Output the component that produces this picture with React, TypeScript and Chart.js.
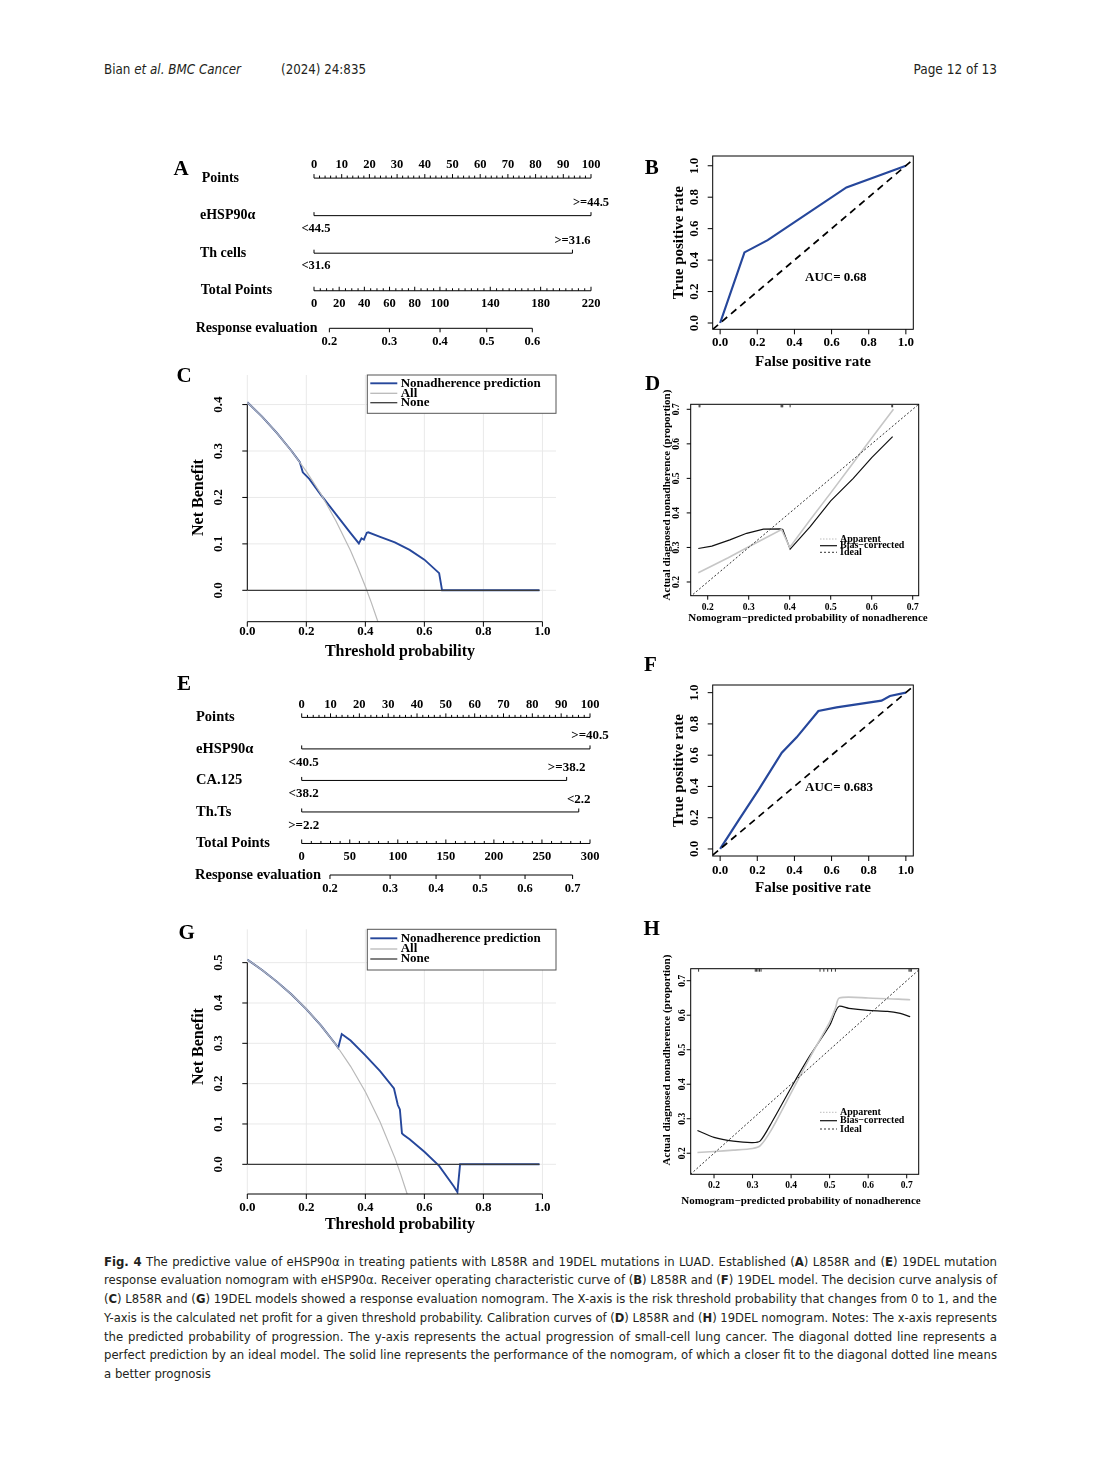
import React, { useEffect, useLayoutEffect, useRef } from "react";
import { Chart, registerables } from "chart.js";

Chart.register(...registerables);

const SERIF = '"Liberation Serif", "Times New Roman", Times, serif';
const SANS = '"Liberation Sans Narrow", "DejaVu Sans Condensed", "Roboto Condensed", Roboto, "Liberation Sans", sans-serif';
const B = (s: number) => `bold ${s}px ${SERIF}`;
const BLUE = "#26479b";
const INK = "#231f20";

// ================= DATA =================
// --- A: L858R nomogram
const nomoAPointTicks = [0, 10, 20, 30, 40, 50, 60, 70, 80, 90, 100];
const nomoARowLabels = ["Points", "eHSP90α", "Th cells", "Total Points", "Response evaluation"];
const nomoAVarMaxPoints = [100, 93.3];
const nomoAVarLowLabels = ["<44.5", "<31.6"];
const nomoAVarHighLabels = [">=44.5", ">=31.6"];
const nomoATotalTicks = [0, 20, 40, 60, 80, 100, 140, 180, 220];
const nomoATotalMax = 220;
const nomoARespProb = [0.2, 0.3, 0.4, 0.5, 0.6];
const nomoARespTotal = [12.2, 59.9, 100.1, 137.2, 173.4];

// --- E: 19DEL nomogram
const nomoEPointTicks = [0, 10, 20, 30, 40, 50, 60, 70, 80, 90, 100];
const nomoERowLabels = ["Points", "eHSP90α", "CA.125", "Th.Ts", "Total Points", "Response evaluation"];
const nomoEVarMaxPoints = [100, 91.9, 96.1];
const nomoEVarLowLabels = ["<40.5", "<38.2", ">=2.2"];
const nomoEVarHighLabels = [">=40.5", ">=38.2", "<2.2"];
const nomoETotalTicks = [0, 50, 100, 150, 200, 250, 300];
const nomoETotalMax = 300;
const nomoERespProb = [0.2, 0.3, 0.4, 0.5, 0.6, 0.7];
const nomoERespTotal = [29.4, 92, 139.8, 185.6, 232.4, 281.9];

// --- B / F: ROC curves
const rocTicks = [0, 0.2, 0.4, 0.6, 0.8, 1.0];
const rocBFpr = [0, 0.131, 0.256, 0.68, 1];
const rocBTpr = [0, 0.449, 0.527, 0.862, 1];
const rocBAuc = "AUC= 0.68";
const rocFFpr = [0, 0.1, 0.206, 0.332, 0.412, 0.529, 0.627, 0.869, 0.914, 1];
const rocFTpr = [0, 0.185, 0.377, 0.616, 0.714, 0.883, 0.906, 0.949, 0.979, 1];
const rocFAuc = "AUC= 0.683";

// --- C / G: decision curves
const dcaXTicks = [0, 0.2, 0.4, 0.6, 0.8, 1.0];
const dcaLegend = ["Nonadherence prediction", "All", "None"];
const dcaCYTicks = [0, 0.1, 0.2, 0.3, 0.4];
const dcaCModelX = [0, 0.05, 0.1, 0.15, 0.178, 0.188, 0.21, 0.25, 0.3, 0.35, 0.378, 0.387, 0.395, 0.405, 0.41, 0.45, 0.5, 0.55, 0.6, 0.65, 0.66, 0.7, 0.8, 0.9, 0.99];
const dcaCModelY = [0.405, 0.374, 0.339, 0.3, 0.276, 0.254, 0.24, 0.205, 0.164, 0.123, 0.101, 0.112, 0.109, 0.124, 0.125, 0.115, 0.103, 0.087, 0.066, 0.037, 0, 0, 0, 0, 0];
const dcaCAllX = [0, 0.05, 0.1, 0.15, 0.2, 0.25, 0.3, 0.35, 0.375, 0.4, 0.42, 0.44, 0.46];
const dcaCAllY = [0.405, 0.374, 0.339, 0.3, 0.256, 0.207, 0.15, 0.085, 0.048, 0.008, -0.026, -0.063, -0.102];
const dcaCNoneX = [0, 0.99];
const dcaCNoneY = [0, 0];

const dcaGYTicks = [0, 0.1, 0.2, 0.3, 0.4, 0.5];
const dcaGModelX = [0, 0.05, 0.1, 0.15, 0.2, 0.25, 0.3, 0.308, 0.32, 0.35, 0.4, 0.45, 0.497, 0.51, 0.517, 0.524, 0.529, 0.55, 0.6, 0.65, 0.7, 0.712, 0.721, 0.8, 0.9, 0.99];
const dcaGModelY = [0.508, 0.482, 0.453, 0.421, 0.385, 0.344, 0.297, 0.289, 0.323, 0.307, 0.27, 0.231, 0.188, 0.147, 0.136, 0.077, 0.073, 0.062, 0.031, -0.004, -0.055, -0.069, 0, 0, 0, 0];
const dcaGAllX = [0, 0.05, 0.1, 0.15, 0.2, 0.25, 0.3, 0.35, 0.4, 0.45, 0.5, 0.52, 0.54, 0.56];
const dcaGAllY = [0.508, 0.482, 0.453, 0.421, 0.385, 0.344, 0.297, 0.243, 0.18, 0.105, 0.016, -0.025, -0.07, -0.118];
const dcaGNoneX = [0, 0.99];
const dcaGNoneY = [0, 0];

// --- D / H: calibration curves
const calTicks = [0.2, 0.3, 0.4, 0.5, 0.6, 0.7];
const calLegend = ["Apparent", "Bias\u2212corrected", "Ideal"];
const calDAppX = [0.177, 0.25, 0.3, 0.35, 0.38, 0.4, 0.45, 0.5, 0.55, 0.6, 0.653];
const calDAppY = [0.227, 0.27, 0.302, 0.333, 0.352, 0.3, 0.38, 0.458, 0.537, 0.617, 0.7];
const calDBiasX = [0.177, 0.21, 0.254, 0.295, 0.336, 0.376, 0.383, 0.401, 0.45, 0.5, 0.555, 0.6, 0.651];
const calDBiasY = [0.297, 0.304, 0.322, 0.341, 0.353, 0.354, 0.352, 0.295, 0.36, 0.435, 0.5, 0.56, 0.621];
const calDRug = [0.179, 0.181, 0.379, 0.381, 0.383, 0.401, 0.649, 0.651];

const calHAppX = [0.157, 0.2, 0.25, 0.3, 0.32, 0.35, 0.4, 0.45, 0.5, 0.515, 0.525, 0.6, 0.709];
const calHAppY = [0.202, 0.205, 0.209, 0.214, 0.222, 0.27, 0.375, 0.48, 0.58, 0.62, 0.65, 0.65, 0.645];
const calHBiasX = [0.157, 0.2, 0.25, 0.3, 0.32, 0.35, 0.4, 0.45, 0.5, 0.515, 0.525, 0.55, 0.6, 0.65, 0.68, 0.709];
const calHBiasY = [0.266, 0.246, 0.235, 0.231, 0.236, 0.29, 0.39, 0.485, 0.57, 0.61, 0.626, 0.62, 0.614, 0.611, 0.606, 0.596];
const calHRug = [0.16, 0.307, 0.31, 0.314, 0.318, 0.322, 0.475, 0.485, 0.495, 0.505, 0.515, 0.706, 0.709, 0.712];

// ================= LAYOUT =================
type Area = { L: number; T: number; W: number; H: number; pl: number; pr: number; pt: number; pb: number };
const areaA: Area = { L: 160, T: 150, W: 480, H: 210, pl: 314, pr: 591, pt: 178.1, pb: 328.3 };
const areaB: Area = { L: 640, T: 150, W: 300, H: 230, pl: 712.7, pr: 913.3, pt: 156, pb: 329.3 };
const areaC: Area = { L: 170, T: 365, W: 400, H: 300, pl: 247.3, pr: 556, pt: 375, pb: 621.7 };
const areaD: Area = { L: 640, T: 370, W: 300, H: 260, pl: 690.7, pr: 918.7, pt: 404.3, pb: 595.7 };
const areaE: Area = { L: 160, T: 670, W: 480, H: 230, pl: 301.7, pr: 590, pt: 717.4, pb: 875 };
const areaF: Area = { L: 640, T: 650, W: 300, H: 250, pl: 712.7, pr: 913.3, pt: 685, pb: 856 };
const areaG: Area = { L: 170, T: 920, W: 400, H: 320, pl: 247.3, pr: 556, pt: 929.3, pb: 1194 };
const areaH: Area = { L: 640, T: 910, W: 300, H: 300, pl: 690.7, pr: 918.7, pt: 968.7, pb: 1174.3 };

// ================= HELPERS =================
function padOf(a: Area) {
  return { left: a.pl - a.L, top: a.pt - a.T, right: a.L + a.W - a.pr, bottom: a.T + a.H - a.pb };
}

function lineDS(xs: number[], ys: number[], color: string, width: number, dash: number[] = [], extra: any = {}) {
  return {
    type: "line",
    data: xs.map((x, i) => ({ x, y: ys[i] })),
    borderColor: color,
    backgroundColor: color,
    borderWidth: width,
    borderDash: dash,
    pointRadius: 0,
    tension: 0,
    fill: false,
    ...extra,
  };
}

function baseOpts(a: Area, xr: [number, number], yr: [number, number], extraScales: any = {}) {
  return {
    responsive: false,
    maintainAspectRatio: false,
    animation: false,
    events: [],
    layout: { padding: padOf(a) },
    plugins: { legend: { display: false }, tooltip: { enabled: false }, title: { display: false } },
    scales: {
      x: { type: "linear", display: false, min: xr[0], max: xr[1], bounds: "data" },
      y: { type: "linear", display: false, min: yr[0], max: yr[1], bounds: "data" },
      ...extraScales,
    },
  } as any;
}

function seg(ctx: CanvasRenderingContext2D, x1: number, y1: number, x2: number, y2: number, color = "#000", w = 1, dash: number[] = []) {
  ctx.save();
  ctx.strokeStyle = color;
  ctx.lineWidth = w;
  ctx.setLineDash(dash);
  ctx.beginPath();
  ctx.moveTo(x1, y1);
  ctx.lineTo(x2, y2);
  ctx.stroke();
  ctx.restore();
}

function txt(ctx: CanvasRenderingContext2D, s: string, x: number, y: number, font: string, align: CanvasTextAlign = "center", rot = 0, color = "#000") {
  ctx.save();
  ctx.font = font;
  ctx.fillStyle = color;
  ctx.textAlign = align;
  ctx.textBaseline = "middle";
  ctx.translate(x, y);
  if (rot) ctx.rotate(rot);
  ctx.fillText(s, 0, 0);
  ctx.restore();
}

function deco(id: string, before: ((c: any) => void) | null, after: (c: any) => void) {
  const p: any = { id };
  if (before) p.beforeDatasetsDraw = (c: any) => { c.ctx.save(); before(c); c.ctx.restore(); };
  p.afterDatasetsDraw = (c: any) => { c.ctx.save(); after(c); c.ctx.restore(); };
  return p;
}

const UP = -Math.PI / 2;

// ================= NOMOGRAM =================
type NomoSpec = {
  area: Area;
  rowLabels: string[];
  rowLabelX: number[];
  rowFont: number;
  pointTicks: number[];
  pointMinor: number;
  varMax: number[];
  varLow: string[];
  varHigh: string[];
  varFont: number;
  totalTicks: number[];
  totalMax: number;
  totalMinor: number;
  respProb: number[];
  respTotal: number[];
  tickFont: number;
  offs: { ptLab: number; hi: number; lo: number; totLab: number; respLab: number };
};

function nomoConfig(s: NomoSpec) {
  const last = s.rowLabels.length - 1;
  const ds: any[] = s.varMax.map((m, i) => lineDS([0, m], [i + 1, i + 1], "#000", 1, [], { xAxisID: "x", clip: false }));
  ds.push(lineDS([0, 100], [0, 0], "#000", 1, [], { xAxisID: "x", clip: false }));
  ds.push(lineDS([0, s.totalMax], [last - 1, last - 1], "#000", 1, [], { xAxisID: "xt", clip: false }));
  ds.push(lineDS([s.respTotal[0], s.respTotal[s.respTotal.length - 1]], [last, last], "#000", 1, [], { xAxisID: "xt", clip: false }));
  const opts = baseOpts(s.area, [0, 100], [0, last], {
    xt: { type: "linear", axis: "x", display: false, min: 0, max: s.totalMax, bounds: "data" },
  });
  opts.scales.y.reverse = true;
  const L = s.area.L;
  return {
    type: "line",
    data: { datasets: ds },
    options: opts,
    plugins: [
      deco("nomo", null, (c: any) => {
        const ctx = c.ctx as CanvasRenderingContext2D;
        const X = c.scales.x, XT = c.scales.xt, Y = c.scales.y;
        s.rowLabels.forEach((lab, r) => txt(ctx, lab, s.rowLabelX[r] - L, Y.getPixelForValue(r), B(s.rowFont), "left"));
        // Points axis
        const y0 = Y.getPixelForValue(0);
        for (let v = 0; v <= 100 + 1e-9; v += s.pointMinor) {
          const major = s.pointTicks.indexOf(v) >= 0;
          const x = X.getPixelForValue(v);
          seg(ctx, x, y0, x, y0 - (major ? 4 : 2.5));
        }
        s.pointTicks.forEach((v) => txt(ctx, String(v), X.getPixelForValue(v), y0 + s.offs.ptLab, B(s.tickFont)));
        // variables
        s.varMax.forEach((m, i) => {
          const yy = Y.getPixelForValue(i + 1);
          const x0 = X.getPixelForValue(0), x1 = X.getPixelForValue(m);
          seg(ctx, x0, yy, x0, yy - 3.5);
          seg(ctx, x1, yy, x1, yy - 3.5);
          txt(ctx, s.varHigh[i], x1, yy + s.offs.hi, B(s.varFont));
          txt(ctx, s.varLow[i], x0 + 2, yy + s.offs.lo, B(s.varFont));
        });
        // total points axis
        const yt = Y.getPixelForValue(last - 1);
        for (let v = 0; v <= s.totalMax + 1e-9; v += s.totalMinor) {
          const major = s.totalTicks.indexOf(v) >= 0;
          const x = XT.getPixelForValue(v);
          seg(ctx, x, yt, x, yt - (major ? 4 : 2.5));
        }
        s.totalTicks.forEach((v) => txt(ctx, String(v), XT.getPixelForValue(v), yt + s.offs.totLab, B(s.tickFont)));
        // response axis
        const yr = Y.getPixelForValue(last);
        s.respTotal.forEach((t, i) => {
          const x = XT.getPixelForValue(t);
          seg(ctx, x, yr, x, yr + 4);
          txt(ctx, s.respProb[i].toFixed(1), x, yr + s.offs.respLab, B(s.tickFont));
        });
      }),
    ],
  };
}

// ================= ROC =================
type RocSpec = {
  area: Area; yr: [number, number]; fpr: number[]; tpr: number[]; auc: string; aucX: number; aucY: number;
  xLabY: number; xTitY: number; yLabX: number; yTitX: number;
};
function rocConfig(s: RocSpec) {
  const { L, T } = s.area;
  return {
    type: "line",
    data: {
      datasets: [
        lineDS([-0.04, 1.04], [-0.04, 1.04], "#000", 1.7, [7, 5]),
        lineDS(s.fpr, s.tpr, BLUE, 2.2),
      ],
    },
    options: baseOpts(s.area, [-0.04, 1.04], s.yr),
    plugins: [
      deco("roc", null, (c: any) => {
        const ctx = c.ctx as CanvasRenderingContext2D;
        const X = c.scales.x, Y = c.scales.y, ca = c.chartArea;
        ctx.strokeStyle = "#000";
        ctx.lineWidth = 1;
        ctx.strokeRect(ca.left, ca.top, ca.right - ca.left, ca.bottom - ca.top);
        rocTicks.forEach((v) => {
          const x = X.getPixelForValue(v);
          seg(ctx, x, ca.bottom, x, ca.bottom + 5);
          txt(ctx, v.toFixed(1), x, s.xLabY - T, B(13));
          const y = Y.getPixelForValue(v);
          seg(ctx, ca.left, y, ca.left - 5, y);
          txt(ctx, v.toFixed(1), s.yLabX - L, y, B(13), "center", UP);
        });
        txt(ctx, "False positive rate", (ca.left + ca.right) / 2, s.xTitY - T, B(15));
        txt(ctx, "True positive rate", s.yTitX - L, (ca.top + ca.bottom) / 2, B(15), "center", UP);
        txt(ctx, s.auc, X.getPixelForValue(s.aucX), Y.getPixelForValue(s.aucY), B(13), "left");
      }),
    ],
  };
}

// ================= DCA =================
type DcaSpec = {
  area: Area; xr: [number, number]; yr: [number, number]; yTicks: number[];
  mx: number[]; my: number[]; ax: number[]; ay: number[]; nx: number[]; ny: number[];
  xLabY: number; xTitY: number; xTitX: number; yLabX: number; yTitX: number; yTitY: number;
  legW: number; legH: number; legRows: number[];
};
function dcaConfig(s: DcaSpec) {
  const { L, T } = s.area;
  const colors = [BLUE, "#b9b9b9", "#3c3c3c"];
  return {
    type: "line",
    data: {
      datasets: [
        lineDS(s.nx, s.ny, colors[2], 1.3),
        lineDS(s.ax, s.ay, colors[1], 1.2),
        lineDS(s.mx, s.my, colors[0], 1.9),
      ],
    },
    options: baseOpts(s.area, s.xr, s.yr),
    plugins: [
      deco(
        "dca",
        (c: any) => {
          const ctx = c.ctx as CanvasRenderingContext2D;
          const X = c.scales.x, Y = c.scales.y, ca = c.chartArea;
          dcaXTicks.forEach((v) => { const x = X.getPixelForValue(v); seg(ctx, x, ca.top, x, ca.bottom, "#e9e9e9", 1); });
          s.yTicks.forEach((v) => { const y = Y.getPixelForValue(v); seg(ctx, ca.left, y, ca.right, y, "#e9e9e9", 1); });
        },
        (c: any) => {
          const ctx = c.ctx as CanvasRenderingContext2D;
          const X = c.scales.x, Y = c.scales.y, ca = c.chartArea;
          // x axis
          seg(ctx, X.getPixelForValue(dcaXTicks[0]), ca.bottom, X.getPixelForValue(dcaXTicks[dcaXTicks.length - 1]), ca.bottom);
          dcaXTicks.forEach((v) => {
            const x = X.getPixelForValue(v);
            seg(ctx, x, ca.bottom, x, ca.bottom + 5);
            txt(ctx, v.toFixed(1), x, s.xLabY - T, B(13));
          });
          // y axis
          seg(ctx, ca.left, Y.getPixelForValue(s.yTicks[0]), ca.left, Y.getPixelForValue(s.yTicks[s.yTicks.length - 1]));
          s.yTicks.forEach((v) => {
            const y = Y.getPixelForValue(v);
            seg(ctx, ca.left, y, ca.left - 5, y);
            txt(ctx, v.toFixed(1), s.yLabX - L, y, B(13), "center", UP);
          });
          txt(ctx, "Threshold probability", s.xTitX - L, s.xTitY - T, B(16));
          txt(ctx, "Net Benefit", s.yTitX - L, s.yTitY - T, B(16), "center", UP);
          // legend
          const bx = ca.right - s.legW, by = ca.top;
          ctx.fillStyle = "#fff";
          ctx.fillRect(bx, by, s.legW, s.legH);
          ctx.strokeStyle = "#555";
          ctx.lineWidth = 1;
          ctx.strokeRect(bx, by, s.legW, s.legH);
          dcaLegend.forEach((lab, i) => {
            const yy = by + s.legRows[i];
            seg(ctx, bx + 3, yy, bx + 30, yy, colors[i], i === 0 ? 1.9 : 1.3);
            txt(ctx, lab, bx + 33.4, yy, B(13), "left");
          });
        }
      ),
    ],
  };
}

// ================= CALIBRATION =================
type CalSpec = {
  area: Area; xr: [number, number]; yr: [number, number];
  ax: number[]; ay: number[]; bx: number[]; by: number[]; rug: number[]; tension: number;
  xLabY: number; xTitY: number; xTitX: number; yLabX: number; yTitX: number; yTitY: number;
  legLineX: [number, number]; legTextX: number; legRows: number[];
};
function calConfig(s: CalSpec) {
  const { L, T } = s.area;
  return {
    type: "line",
    data: {
      datasets: [
        lineDS([0, 1], [0, 1], "#333", 1, [2, 2]),
        lineDS(s.ax, s.ay, "#c6c6c6", 1.6, [], { tension: s.tension }),
        lineDS(s.bx, s.by, "#111", 1.2, [], { tension: s.tension }),
      ],
    },
    options: baseOpts(s.area, s.xr, s.yr),
    plugins: [
      deco("cal", null, (c: any) => {
        const ctx = c.ctx as CanvasRenderingContext2D;
        const X = c.scales.x, Y = c.scales.y, ca = c.chartArea;
        ctx.strokeStyle = "#000";
        ctx.lineWidth = 1;
        ctx.strokeRect(ca.left, ca.top, ca.right - ca.left, ca.bottom - ca.top);
        s.rug.forEach((v) => { const x = X.getPixelForValue(v); seg(ctx, x, ca.top, x, ca.top + 3, "#333", 1); });
        calTicks.forEach((v) => {
          const x = X.getPixelForValue(v);
          seg(ctx, x, ca.bottom, x, ca.bottom + 4);
          txt(ctx, v.toFixed(1), x, s.xLabY - T, B(9.5));
          const y = Y.getPixelForValue(v);
          seg(ctx, ca.left, y, ca.left - 4, y);
          txt(ctx, v.toFixed(1), s.yLabX - L, y, B(9.5), "center", UP);
        });
        txt(ctx, "Nomogram\u2212predicted probability of nonadherence", s.xTitX - L, s.xTitY - T, B(11));
        txt(ctx, "Actual diagnosed nonadherence (proportion)", s.yTitX - L, s.yTitY - T, B(11), "center", UP);
        const styles = [
          { c: "#bdbdbd", d: [1.5, 1.5], w: 1 },
          { c: "#111", d: [], w: 1.2 },
          { c: "#333", d: [2, 2], w: 1 },
        ];
        calLegend.forEach((lab, i) => {
          const yy = s.legRows[i] - T;
          seg(ctx, s.legLineX[0] - L, yy, s.legLineX[1] - L, yy, styles[i].c, styles[i].w, styles[i].d);
          txt(ctx, lab, s.legTextX - L, yy, B(10), "left");
        });
      }),
    ],
  };
}

// ================= COMPONENTS =================
function ChartCanvas({ area, make }: { area: Area; make: () => any }) {
  const ref = useRef<HTMLCanvasElement>(null);
  useEffect(() => {
    if (!ref.current) return;
    const chart = new Chart(ref.current, make());
    let alive = true;
    const f: any = (document as any).fonts;
    if (f && f.ready) f.ready.then(() => { if (alive) chart.draw(); });
    return () => { alive = false; chart.destroy(); };
  }, []);
  return (
    <canvas
      ref={ref}
      width={area.W}
      height={area.H}
      style={{ position: "absolute", left: area.L, top: area.T, width: area.W, height: area.H }}
    />
  );
}

function FitLine({ x, y, width, size, justify = true, italic = false, children }: any) {
  const ref = useRef<HTMLSpanElement>(null);
  useLayoutEffect(() => {
    const el = ref.current;
    if (!el) return;
    const fit = () => {
      el.style.wordSpacing = "0px";
      el.style.transform = "none";
      const w = el.getBoundingClientRect().width;
      const n = (el.textContent || "").split(" ").length - 1;
      if (w > width) el.style.transform = `scaleX(${width / w})`;
      else if (justify && n > 0) el.style.wordSpacing = `${(width - w) / n}px`;
    };
    fit();
    const f: any = (document as any).fonts;
    if (f && f.ready) f.ready.then(fit);
  }, []);
  const lh = size + 4;
  return (
    <div
      style={{
        position: "absolute", left: x, top: y - lh / 2, height: lh, lineHeight: `${lh}px`,
        fontSize: size, fontFamily: SANS, whiteSpace: "nowrap", color: INK, fontStyle: italic ? "italic" : "normal",
      }}
    >
      <span ref={ref} style={{ display: "inline-block", transformOrigin: "0 50%" }}>{children}</span>
    </div>
  );
}

function Letter({ ch, x, y }: { ch: string; x: number; y: number }) {
  return (
    <div
      style={{
        position: "absolute", left: x - 12, top: y - 11.1, width: 24, height: 22, lineHeight: "22px",
        textAlign: "center", fontFamily: SERIF, fontWeight: "bold", fontSize: 21, color: "#000",
      }}
    >
      {ch}
    </div>
  );
}

// ================= APP =================
export default function App() {
  const capY = (i: number) => 1261 + i * 18.75;
  return (
    <div style={{ position: "absolute", left: 0, top: 0, width: 1102, height: 1470, background: "#fff", overflow: "hidden" }}>
      {/* header */}
      <FitLine x={104} y={70} width={137} size={13.5} justify={false}>
        Bian <i>et al. BMC Cancer</i>
      </FitLine>
      <FitLine x={281} y={70} width={85} size={13.5} justify={false}>
        (2024) 24:835
      </FitLine>
      <div
        style={{
          position: "absolute", right: 1102 - 997, top: 70 - 8.75, height: 17.5, lineHeight: "17.5px",
          fontSize: 13.5, fontFamily: SANS, color: INK, whiteSpace: "nowrap",
        }}
      >
        Page 12 of 13
      </div>

      {/* charts */}
      <ChartCanvas
        area={areaA}
        make={() =>
          nomoConfig({
            area: areaA,
            rowLabels: nomoARowLabels,
            rowLabelX: [201.7, 200, 200, 200.7, 195.7],
            rowFont: 14,
            pointTicks: nomoAPointTicks,
            pointMinor: 2,
            varMax: nomoAVarMaxPoints,
            varLow: nomoAVarLowLabels,
            varHigh: nomoAVarHighLabels,
            varFont: 12.5,
            totalTicks: nomoATotalTicks,
            totalMax: nomoATotalMax,
            totalMinor: 5,
            respProb: nomoARespProb,
            respTotal: nomoARespTotal,
            tickFont: 12.5,
            offs: { ptLab: -13.3, hi: -12.6, lo: 13, totLab: 13.3, respLab: 13.4 },
          })
        }
      />
      <ChartCanvas
        area={areaB}
        make={() =>
          rocConfig({
            area: areaB, yr: [-0.04, 1.062], fpr: rocBFpr, tpr: rocBTpr, auc: rocBAuc, aucX: 0.457, aucY: 0.286,
            xLabY: 343, xTitY: 362, yLabX: 695, yTitX: 679,
          })
        }
      />
      <ChartCanvas
        area={areaC}
        make={() =>
          dcaConfig({
            area: areaC, xr: [0, 1.046], yr: [-0.0676, 0.4637], yTicks: dcaCYTicks,
            mx: dcaCModelX, my: dcaCModelY, ax: dcaCAllX, ay: dcaCAllY, nx: dcaCNoneX, ny: dcaCNoneY,
            xLabY: 631.7, xTitY: 651.7, xTitX: 400, yLabX: 218.3, yTitX: 199.3, yTitY: 497.5,
            legW: 188.7, legH: 38.3, legRows: [8.3, 18.3, 27.7],
          })
        }
      />
      <ChartCanvas
        area={areaD}
        make={() =>
          calConfig({
            area: areaD, xr: [0.1585, 0.7146], yr: [0.1603, 0.7145],
            ax: calDAppX, ay: calDAppY, bx: calDBiasX, by: calDBiasY, rug: calDRug, tension: 0,
            xLabY: 607.3, xTitY: 618.3, xTitX: 808, yLabX: 676.7, yTitX: 667.3, yTitY: 495,
            legLineX: [820, 837], legTextX: 840, legRows: [539, 545.7, 552.3],
          })
        }
      />
      <ChartCanvas
        area={areaE}
        make={() =>
          nomoConfig({
            area: areaE,
            rowLabels: nomoERowLabels,
            rowLabelX: [196, 196, 196, 196, 196, 195],
            rowFont: 14.5,
            pointTicks: nomoEPointTicks,
            pointMinor: 2,
            varMax: nomoEVarMaxPoints,
            varLow: nomoEVarLowLabels,
            varHigh: nomoEVarHighLabels,
            varFont: 13,
            totalTicks: nomoETotalTicks,
            totalMax: nomoETotalMax,
            totalMinor: 10,
            respProb: nomoERespProb,
            respTotal: nomoERespTotal,
            tickFont: 12.5,
            offs: { ptLab: -13.1, hi: -12.8, lo: 13.7, totLab: 13.2, respLab: 13.3 },
          })
        }
      />
      <ChartCanvas
        area={areaF}
        make={() =>
          rocConfig({
            area: areaF, yr: [-0.045, 1.049], fpr: rocFFpr, tpr: rocFTpr, auc: rocFAuc, aucX: 0.457, aucY: 0.392,
            xLabY: 870.7, xTitY: 887.7, yLabX: 695, yTitX: 679,
          })
        }
      />
      <ChartCanvas
        area={areaG}
        make={() =>
          dcaConfig({
            area: areaG, xr: [0, 1.046], yr: [-0.0736, 0.5827], yTicks: dcaGYTicks,
            mx: dcaGModelX, my: dcaGModelY, ax: dcaGAllX, ay: dcaGAllY, nx: dcaGNoneX, ny: dcaGNoneY,
            xLabY: 1207.3, xTitY: 1225, xTitX: 400, yLabX: 218.3, yTitX: 199.3, yTitY: 1046.5,
            legW: 188.7, legH: 40.7, legRows: [9, 19.7, 29.7],
          })
        }
      />
      <ChartCanvas
        area={areaH}
        make={() =>
          calConfig({
            area: areaH, xr: [0.1395, 0.7311], yr: [0.139, 0.7348],
            ax: calHAppX, ay: calHAppY, bx: calHBiasX, by: calHBiasY, rug: calHRug, tension: 0.25,
            xLabY: 1185.7, xTitY: 1200.7, xTitX: 801, yLabX: 682.7, yTitX: 667.3, yTitY: 1060,
            legLineX: [820, 837], legTextX: 840, legRows: [1112.3, 1120.7, 1129],
          })
        }
      />

      {/* panel letters */}
      <Letter ch="A" x={181} y={168.5} />
      <Letter ch="B" x={651.7} y={166.7} />
      <Letter ch="C" x={184} y={375.5} />
      <Letter ch="D" x={652.5} y={383} />
      <Letter ch="E" x={184} y={683} />
      <Letter ch="F" x={650.5} y={664} />
      <Letter ch="G" x={186.7} y={932.5} />
      <Letter ch="H" x={651.7} y={928} />

      {/* caption */}
      <FitLine x={104} y={capY(0)} width={893} size={13}>
        <b>Fig. 4</b> The predictive value of eHSP90α in treating patients with L858R and 19DEL mutations in LUAD. Established (<b>A</b>) L858R and (<b>E</b>) 19DEL mutation
      </FitLine>
      <FitLine x={104} y={capY(1)} width={893} size={13}>
        response evaluation nomogram with eHSP90α. Receiver operating characteristic curve of (<b>B</b>) L858R and (<b>F</b>) 19DEL model. The decision curve analysis of
      </FitLine>
      <FitLine x={104} y={capY(2)} width={893} size={13}>
        (<b>C</b>) L858R and (<b>G</b>) 19DEL models showed a response evaluation nomogram. The X-axis is the risk threshold probability that changes from 0 to 1, and the
      </FitLine>
      <FitLine x={104} y={capY(3)} width={893} size={13}>
        Y-axis is the calculated net profit for a given threshold probability. Calibration curves of (<b>D</b>) L858R and (<b>H</b>) 19DEL nomogram. Notes: The x-axis represents
      </FitLine>
      <FitLine x={104} y={capY(4)} width={893} size={13}>
        the predicted probability of progression. The y-axis represents the actual progression of small-cell lung cancer. The diagonal dotted line represents a
      </FitLine>
      <FitLine x={104} y={capY(5)} width={893} size={13}>
        perfect prediction by an ideal model. The solid line represents the performance of the nomogram, of which a closer fit to the diagonal dotted line means
      </FitLine>
      <FitLine x={104} y={capY(6)} width={893} size={13} justify={false}>
        a better prognosis
      </FitLine>
    </div>
  );
}
